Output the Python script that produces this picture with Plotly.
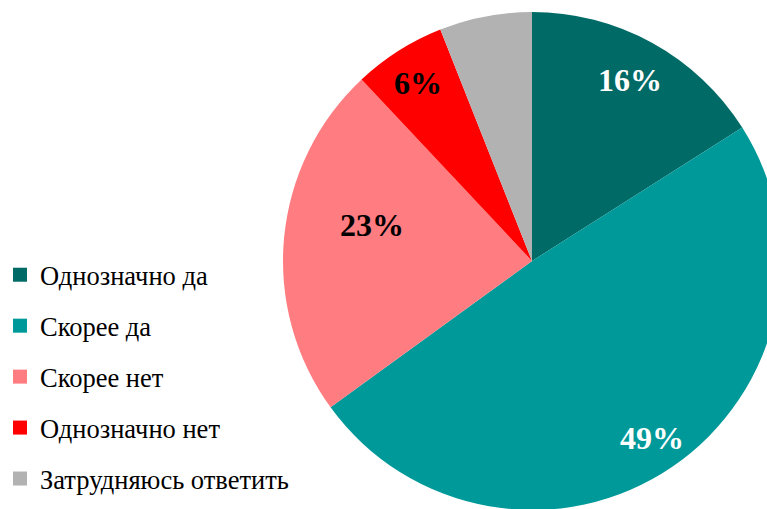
import math
import plotly.graph_objects as go

categories = ["Однозначно да", "Скорее да", "Скорее нет", "Однозначно нет", "Затрудняюсь ответить"]
values = [16, 49, 23, 6, 6]
value_labels = ["16%", "49%", "23%", "6%", ""]
colors = ["#006A66", "#009999", "#FF7C80", "#FF0000", "#B2B2B2"]
label_colors = ["white", "white", "black", "black", "black"]
# label placement style: radial factor and position within the slice
label_radius = [0.823, 0.862, 0.658, 0.845, 0.8]
label_frac = [0.496, 0.501, 0.584, 0.48, 0.5]

W, H = 800, 509
cx, cy, r = 532, 261, 249

fig = go.Figure()
fig.add_trace(go.Pie(
    labels=categories,
    values=values,
    textinfo="none",
    sort=False,
    direction="clockwise",
    rotation=0,
    marker=dict(colors=colors, line=dict(width=0)),
    showlegend=False,
    hoverinfo="label+percent",
    domain=dict(x=[(cx - r) / W, (cx + r) / W], y=[0, 1]),
))

total = sum(values)
cum = 0.0
for v, lab, lc, f, fr in zip(values, value_labels, label_colors, label_radius, label_frac):
    a = 2 * math.pi * (cum + fr * v) / total
    cum += v
    if not lab:
        continue
    px = cx + f * r * math.sin(a)
    py = cy - f * r * math.cos(a)
    fig.add_annotation(
        x=px / W, y=(H - py + 1) / H, xref="paper", yref="paper",
        text=lab, showarrow=False, xanchor="center", yanchor="middle",
        font=dict(family="Liberation Serif", size=32, color=lc, weight="bold"),
    )

for i, (c, col) in enumerate(zip(categories, colors)):
    fig.add_trace(go.Scatter(
        x=[None], y=[None], mode="markers", name=c,
        marker=dict(symbol="square", size=14, color=col),
        legendgroup=f"g{i}", showlegend=True,
    ))

Hp = 2 * cy  # paper height so the pie fits its domain; page crops the rest
fig.update_layout(
    width=W, height=Hp,
    margin=dict(l=0, r=0, t=0, b=0),
    paper_bgcolor="white", plot_bgcolor="white",
    xaxis=dict(visible=False), yaxis=dict(visible=False),
    legend=dict(
        x=0, y=(Hp - 251) / Hp, xanchor="left", yanchor="top",
        font=dict(family="Liberation Serif", size=26.5, color="black"),
        tracegroupgap=13.5,
        bgcolor="rgba(0,0,0,0)",
    ),
)
for ann in fig.layout.annotations:
    ann.y = (Hp - (H - ann.y * H)) / Hp

fig.write_html(
    "out.html",
    config={"displayModeBar": False},
    post_script="document.body.style.margin='0';document.body.style.overflow='hidden';document.documentElement.style.overflow='hidden';",
)
